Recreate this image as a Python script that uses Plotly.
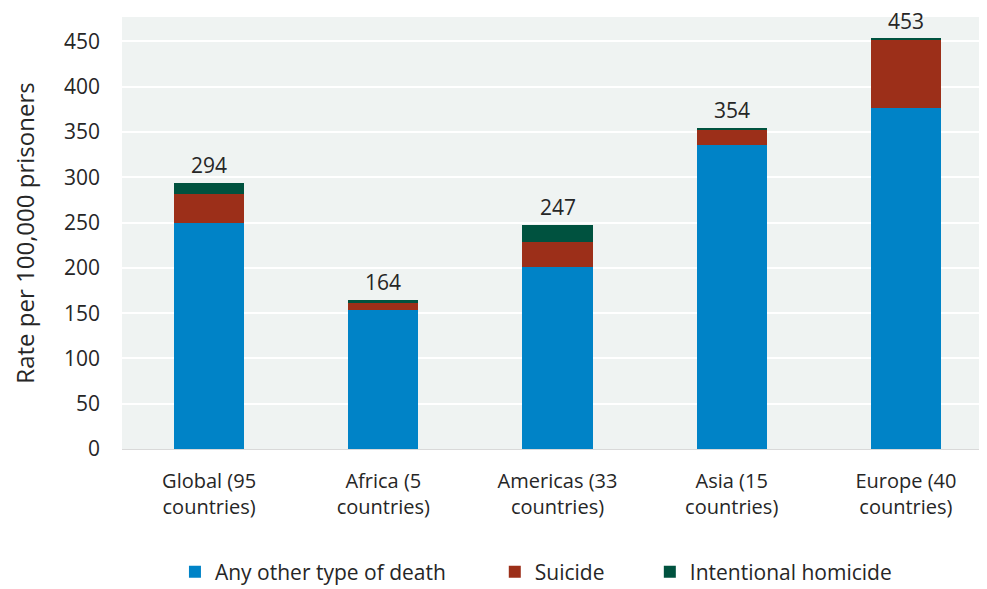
import plotly.graph_objects as go

categories = ["Global (95<br>countries)", "Africa (5<br>countries)", "Americas (33<br>countries)",
              "Asia (15<br>countries)", "Europe (40<br>countries)"]
other = [249, 154, 201, 336, 377]
suicide = [33, 7, 28, 17, 75]
homicide = [12, 3, 18, 1, 1]
totals = [294, 164, 247, 354, 453]

series_names = ["Any other type of death", "Suicide", "Intentional homicide"]
series_colors = ["#0083C7", "#9C2F19", "#00523F"]

font_family = "Open Sans, Noto Sans, sans-serif"
text_color = "#262626"

fig = go.Figure()
legend_ids = ["legend", "legend2", "legend3"]
for vals, name, color, lid in zip([other, suicide, homicide], series_names, series_colors, legend_ids):
    fig.add_trace(go.Bar(x=categories, y=vals, name=name, legend=lid,
                         marker=dict(color=color, line=dict(width=0))))

for cat, tot in zip(categories, totals):
    fig.add_annotation(x=cat, y=tot, text=str(tot), showarrow=False,
                       yanchor="middle", yshift=18,
                       font=dict(size=21, color=text_color, family=font_family))

legend_common = dict(orientation="h", yanchor="middle", y=-0.285, xanchor="left",
                     font=dict(size=21, color=text_color, family=font_family),
                     itemwidth=30, bgcolor="rgba(0,0,0,0)")

fig.update_layout(
    barmode="stack",
    bargap=0.598,
    width=987, height=589,
    margin=dict(l=114, r=2, t=9, b=148, autoexpand=False),
    paper_bgcolor="white",
    plot_bgcolor="#EFF3F2",
    font=dict(family=font_family, size=20, color=text_color),
    yaxis=dict(range=[0, 477], tickvals=list(range(0, 451, 50)),
               gridcolor="white", gridwidth=2, zeroline=False,
               ticks="", ticklabelstandoff=21,
               title=dict(text="Rate per 100,000 prisoners", font=dict(size=24), standoff=26),
               tickfont=dict(size=21)),
    xaxis=dict(range=[-0.5, 4.5], tickfont=dict(size=20), ticks="", ticklabelstandoff=14,
               showline=True, linecolor="#D9D9D9", linewidth=1),
    legend=dict(x=0.0608, **legend_common),
    legend2=dict(x=0.428, **legend_common),
    legend3=dict(x=0.606, **legend_common),
    showlegend=True,
)

fig.write_html("out.html")
